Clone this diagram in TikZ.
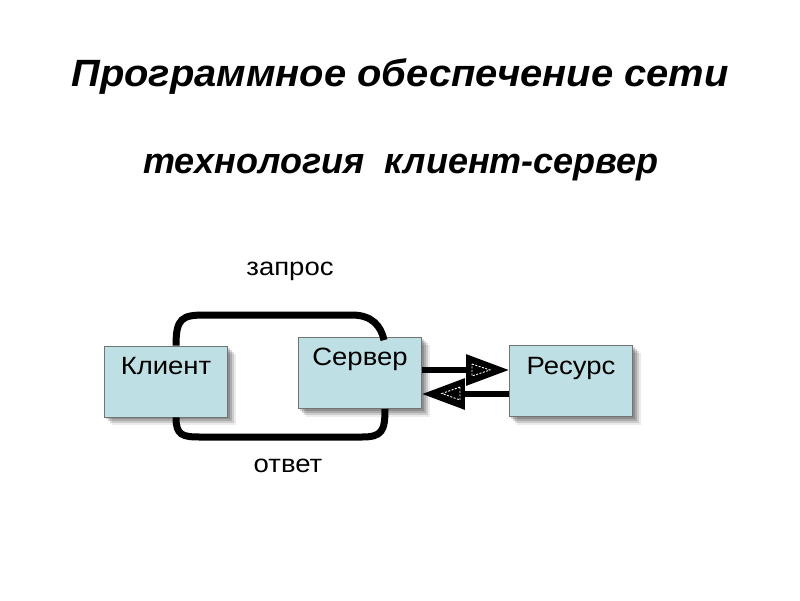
\documentclass[tikz,border=0pt]{standalone}
\usepackage{fontspec}
\setmainfont{Liberation Sans}
\usetikzlibrary{arrows.meta,backgrounds}
\definecolor{boxblue}{RGB}{190,223,227}
\begin{document}
\begin{tikzpicture}[x=1pt,y=-1pt,
  box/.style={draw=gray!90!black, line width=0.8pt, fill=boxblue, minimum width=123pt, minimum height=71pt, inner sep=0pt},
  lbl/.style={font=\fontsize{25}{30}\selectfont, inner sep=0pt, xscale=1.1},
  ttl/.style={font=\fontsize{38}{44}\selectfont\bfseries\itshape, inner sep=0pt, xscale=1.05},
  sub/.style={font=\fontsize{36}{42}\selectfont\bfseries\itshape, inner sep=0pt},
  link/.style={line width=7pt, black},
  shaft/.style={line width=6pt, black, -{Triangle[length=43pt,width=30pt]}},
  inner/.style={white, line width=0.9pt, dash pattern=on 2pt off 1.5pt}]
\useasboundingbox (0,0) rectangle (800,600);

\node[ttl] (title) at (400,77) {Программное обеспечение сети};
\node[sub] (subtitle) at (401,168) {технология\ \ клиент-сервер};

\node[box] (klient) at (166,381.5) {};
\node[box] (server) at (360,373) {};
\node[box] (resurs) at (571,381) {};

\begin{scope}[on background layer]
\fill[white] (0,0) rectangle (800,600);
\foreach \n in {klient,server,resurs}{
  \foreach \o/\op in {2/0.16,4/0.16,6/0.13,8/0.08}{
    \fill[black, opacity=\op] ([shift={(\o,\o)}]\n.north west) rectangle ([shift={(\o,\o)}]\n.south east);
  }
}
\end{scope}

\node[lbl] (klientT) at ([yshift=-20pt]klient.north) {Клиент};
\node[lbl] (serverT) at ([yshift=-22pt]server.north) {Сервер};
\node[lbl] (resursT) at ([yshift=-23pt]resurs.north) {Ресурс};

\draw[link] ([xshift=10pt]klient.north) .. controls (176,318) and (182,315) .. (205,315) -- (352,315) .. controls (372,315) and (381,326) .. ([xshift=24pt,yshift=-3pt]server.north);
\draw[link] ([xshift=10pt]klient.south) .. controls (176,435) and (182,437) .. (200,437) -- (362,437) .. controls (382,437) and (385,431) .. ([xshift=25pt]server.south);

\node[lbl] (zapros) at (290,271) {запрос};
\node[lbl] (otvet) at (288,466) {ответ};

\draw[shaft] ([yshift=3pt]server.east) -- ([yshift=11pt]resurs.west);
\draw[shaft] ([yshift=-13pt]resurs.west) -- ([yshift=-21pt]server.east);
\draw[inner] (472,364) -- (490,370) -- (472,376) -- cycle;
\draw[inner] (460,387) -- (442,393.5) -- (460,400) -- cycle;
\end{tikzpicture}
\end{document}
